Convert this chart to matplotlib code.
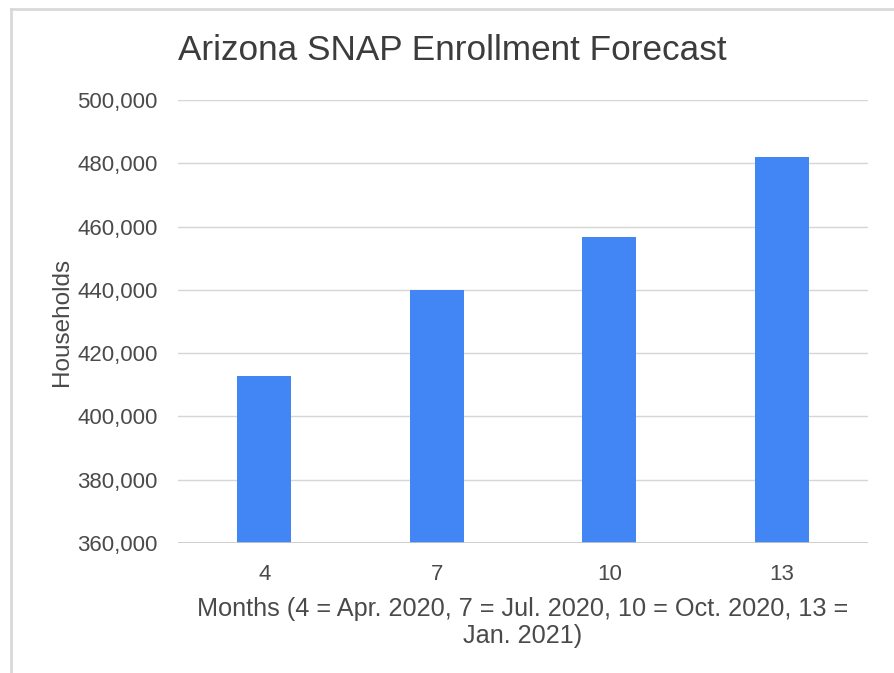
import matplotlib
matplotlib.use("Agg")
import matplotlib.pyplot as plt
from matplotlib.lines import Line2D
from matplotlib.ticker import FuncFormatter

months = ["4", "7", "10", "13"]
households = [412800, 440000, 456700, 482000]
yticks = [360000, 380000, 400000, 420000, 440000, 460000, 480000, 500000]

W, H = 894, 673
fig = plt.figure(figsize=(W / 100, H / 100), dpi=100)
fig.patch.set_facecolor("white")
plt.rcParams["font.family"] = ["Liberation Sans", "DejaVu Sans"]

# screenshot frame lines
fig.add_artist(Line2D([10.5 / W, 1], [1 - 8.5 / H, 1 - 8.5 / H], color="#d9d9d9", lw=2.0))
fig.add_artist(Line2D([10.5 / W, 10.5 / W], [0, 1 - 8.5 / H], color="#d9d9d9", lw=2.0))

left, right, top, bottom = 178, 868, 100, 543
ax = fig.add_axes([left / W, 1 - bottom / H, (right - left) / W, (bottom - top) / H])
x = list(range(len(months)))
ax.bar(x, households, width=0.315, color="#4285F4", zorder=3)
ax.set_xlim(-0.5, len(months) - 0.5)
ax.set_ylim(360000, 500000)
ax.set_yticks(yticks)
ax.yaxis.set_major_formatter(FuncFormatter(lambda v, p: f"{int(v):,}"))
ax.set_xticks(x)
ax.set_xticklabels(months)
ax.grid(axis="y", color="#d6d6d6", lw=1.0, zorder=0)
for s in ax.spines.values():
    s.set_visible(False)
ax.axhline(360000, color="#c8c8c8", lw=1.2, zorder=4)
ax.tick_params(axis="both", length=0, labelsize=16, labelcolor="#4a4a4a")
ax.tick_params(axis="y", pad=14.5)
ax.tick_params(axis="x", pad=15)
ax.set_ylabel("Households", fontsize=17.5, color="#4a4a4a", labelpad=3.5)
ax.set_xlabel("Months (4 = Apr. 2020, 7 = Jul. 2020, 10 = Oct. 2020, 13 =\nJan. 2021)",
              fontsize=18.2, color="#4a4a4a", labelpad=9, linespacing=1.15)
fig.text(178 / W, 1 - 50 / H, "Arizona SNAP Enrollment Forecast", fontsize=25.3,
         color="#3c3c3c", ha="left", va="center")

fig.savefig("out.png", dpi=100, facecolor="white")
